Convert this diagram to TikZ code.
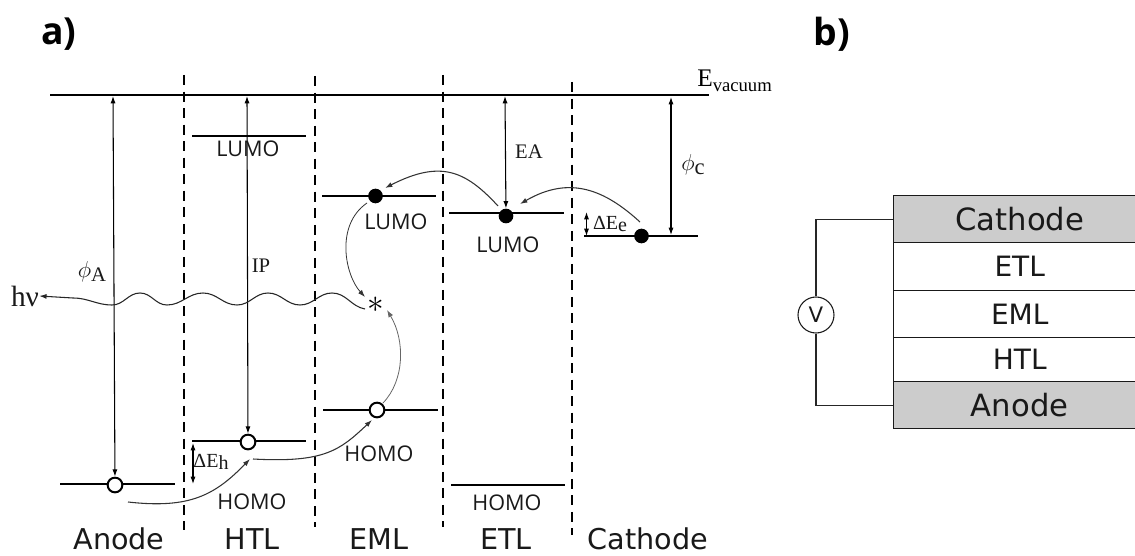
\documentclass[tikz,border=0pt]{standalone}
\usepackage{amsmath}
\usepackage{fontspec}
\setmainfont{Liberation Serif}
\setsansfont{DejaVu Sans}
\newfontfamily\orbfont{Open Sans}
\usepackage{tikz}
\usetikzlibrary{arrows.meta}

\begin{document}
\begin{tikzpicture}[x=0.75pt,y=-0.75pt]
% Define common styles
\tikzset{
    level/.style={line width=1.8pt},
    barrier/.style={line width=1.6pt, dash pattern=on 7.5pt off 4.9pt},
    arrow/.style={{Latex[length=5.5pt,width=3.8pt]}-{Latex[length=5.5pt,width=3.8pt]}, line width=0.8pt},
    hop/.style={-{Latex[length=5.5pt,width=3.8pt]}, line width=0.8pt, black!80},
    electron/.style={circle, fill=black, inner sep=0pt, minimum size=11pt},
    hole/.style={circle, draw, line width=1.5pt, fill=white, inner sep=0pt, minimum width=9pt, minimum height=11pt},
    orbital/.style={font=\orbfont\fontsize{16.2}{18}\selectfont, inner sep=0pt, black!90},
    serif/.style={font=\fontsize{15.5}{18}\selectfont, inner sep=0pt, black!90},
    layername/.style={font=\sffamily\fontsize{21.5}{24}\selectfont, inner sep=0pt, black!90},
    panel/.style={font=\orbfont\bfseries\fontsize{28}{32}\selectfont, inner sep=0pt},
    stackrow/.style={draw, line width=1.1pt, anchor=north west, minimum width=189pt, inner sep=0pt, font=\sffamily\fontsize{21}{24}\selectfont, black!90},
    gatefill/.style={fill=black!20, font=\sffamily\fontsize{23}{24}\selectfont}
}
\useasboundingbox (0,0) rectangle (1135,556);

% Panel titles
\node[panel] (titlea) at (59,34) {a)};
\node[panel] (titleb) at (832,34) {b)};

% Layer boundaries
\draw[barrier] (184,75) -- (184,530);
\draw[barrier] (315,76) -- (315,527);
\draw[barrier] (443,75) -- (443,527);
\draw[barrier] (572,82) -- (572,535);

% Vacuum level
\draw[line width=1.3pt] (50,95) -- (709,95);
\node[inner sep=0pt, anchor=west, font=\fontsize{19}{20}\selectfont] (evac) at (697,81) {E\raisebox{-0.45ex}{\fontsize{14}{16}\selectfont vacuum}};

% Energy levels
\draw[level] (60,484) -- (175,484);
\draw[level] (192,441) -- (306,441);
\draw[level] (323,410) -- (438,410);
\draw[level] (451,485) -- (565,485);
\draw[level] (192,136) -- (306,136);
\draw[level] (322,196) -- (436,196);
\draw[level] (449,213) -- (564,213);
\draw[level] (584,236) -- (698,236);

% Carriers
\node[hole] (holeA) at (115,485) {};
\node[hole] (holeH) at (248,442) {};
\node[hole] (holeE) at (377,410) {};
\node[electron] (elecE) at (375.5,196) {};
\node[electron] (elecT) at (506,216) {};
\node[electron] (elecC) at (641.5,236) {};
\node[inner sep=0pt, font=\fontsize{52}{52}\selectfont] (star) at (376,305) {$\ast$};

% Free ends of the arrows
\coordinate (vacA) at (113,96);
\coordinate (vacH) at (247,96);
\coordinate (vacT) at (505,96);
\coordinate (vacC) at (671,97);
\coordinate (cathodeEnd) at (671,235);
\coordinate (hTop) at (193,443);
\coordinate (hBot) at (193,484);
\coordinate (eTop) at (586.5,212);
\coordinate (eBot) at (586.5,236);

% Energy differences
\draw[arrow] (vacA) -- (holeA);
\draw[arrow] (vacH) -- (holeH);
\draw[arrow] (vacT) -- (elecT);
\draw[arrow] (vacC) -- (cathodeEnd);
\draw[arrow] (hTop) -- (hBot);
\draw[arrow] (eTop) -- (eBot);

% Carrier hops
\coordinate (hopA) at (128,502);
\coordinate (hopH) at (250,459);
\coordinate (hopHb) at (253,459);
\coordinate (hopE) at (372,420);
\draw[hop] (hopA) .. controls (190,509) and (215,495) .. (hopH);
\draw[hop] (hopHb) .. controls (325,463) and (340,450) .. (hopE);

\coordinate (hopC) at (640,222);
\coordinate (hopT) at (520,204);
\coordinate (hopTb) at (498,206);
\coordinate (hopL) at (385,188);
\draw[hop] (hopC) .. controls (605,190) and (570,175) .. (hopT);
\draw[hop] (hopTb) .. controls (465,170) and (440,160) .. (hopL);

\coordinate (recE) at (367,203);
\coordinate (recEnd) at (365,297);
\coordinate (recH) at (383,403);
\coordinate (recEndb) at (387,310);
\draw[hop, line width=0.6pt] (recE) .. controls (335,225) and (345,275) .. (recEnd);
\draw[hop, line width=0.6pt, black!60] (recH) .. controls (405,380) and (405,340) .. (recEndb);

% Emission
\node[serif, font=\fontsize{22}{24}\selectfont] (hnu) at (25,296) {hν};
\coordinate (waveStart) at (365,309);
\draw[-{Latex[length=5.5pt,width=3.8pt]}, line width=0.8pt, black!85] (waveStart) to[out=170,in=0] (332,293) to[out=180,in=0] (300,305)
    to[out=180,in=0] (268,293) to[out=180,in=0] (237,305) to[out=180,in=0] (203,293)
    to[out=180,in=0] (167,305) to[out=180,in=0] (140,293) to[out=180,in=0] (112,305)
    to[out=180,in=0] (73,298) -- (hnu.east);

% Quantities
\node[serif, font=\fontsize{18}{20}\selectfont] (phiA) at (92,272) {$\phi$\raisebox{-0.3ex}{\fontsize{15.5}{18}\selectfont A}};
\node[serif] (ip) at (261,266) {IP};
\node[serif] (ea) at (529,152) {EA};
\node[serif, font=\fontsize{19}{20}\selectfont] (phiC) at (693,165) {$\phi$\raisebox{-0.3ex}{\fontsize{17}{18}\selectfont c}};
\node[serif, font=\fontsize{15}{16}\selectfont] (dEe) at (610,224) {ΔE\raisebox{-0.3ex}{e}};
\node[serif, font=\fontsize{15}{16}\selectfont] (dEh) at (211,462) {ΔE\raisebox{-0.3ex}{h}};

% Orbital names
\node[orbital] (lumoH) at (248,149) {LUMO};
\node[orbital] (lumoE) at (396,222) {LUMO};
\node[orbital] (lumoT) at (508,245) {LUMO};
\node[orbital] (homoH) at (252,502) {HOMO};
\node[orbital] (homoE) at (379,454) {HOMO};
\node[orbital] (homoT) at (507,503) {HOMO};

% Layer names
\node[layername] (anodeName) at (119,539) {Anode};
\node[layername] (htlName) at (252,539) {HTL};
\node[layername] (emlName) at (379,539) {EML};
\node[layername] (etlName) at (506,539) {ETL};
\node[layername] (cathodeName) at (648,539) {Cathode};

% Device stack
\node[stackrow, gatefill, minimum height=35.25pt] (cathode) at (893,195) {Cathode};
\node[stackrow, minimum height=36pt] (etl) at (893,242) {ETL};
\node[stackrow, minimum height=35.25pt] (eml) at (893,290) {EML};
\node[stackrow, minimum height=33pt] (htl) at (893,337) {HTL};
\node[stackrow, gatefill, minimum height=35.25pt] (anode) at (893,381) {Anode};

% Voltage source
\node[circle, draw, line width=0.8pt, minimum size=27pt, inner sep=0pt, font=\sffamily\fontsize{16}{18}\selectfont, black!90] (vsrc) at (816,315) {V};
\draw[line width=0.9pt, black!85] (vsrc) |- (cathode.west);
\draw[line width=0.9pt, black!85] (vsrc) |- (anode.west);

\end{tikzpicture}
\end{document}
